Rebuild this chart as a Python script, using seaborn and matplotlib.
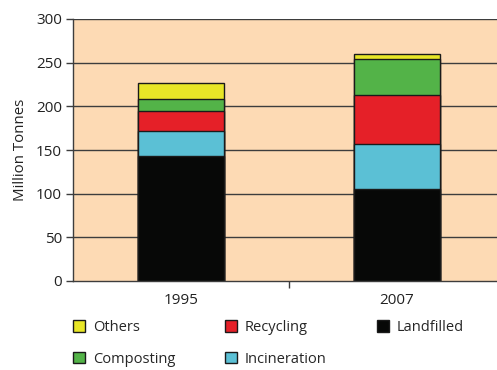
import matplotlib
matplotlib.use("Agg")
import matplotlib.pyplot as plt
from matplotlib.patches import Patch
import seaborn as sns
import pandas as pd
import numpy as np

years = ["1995", "2007"]
series = ["Landfilled", "Incineration", "Recycling", "Composting", "Others"]
landfilled = [143, 105]
incineration = [29, 52]
recycling = [23, 56]
composting = [13, 41]
others = [19, 6]
colors = {"Landfilled": "#070807", "Incineration": "#5BC0D5", "Recycling": "#E52028",
          "Composting": "#53B348", "Others": "#E8E627"}
yticks = [0, 50, 100, 150, 200, 250, 300]

sns.set_theme(style="white")
plt.rcParams['font.family'] = ['Open Sans', 'DejaVu Sans']

vals = [landfilled, incineration, recycling, composting, others]
cum = np.cumsum(np.array(vals), axis=0)

fig = plt.figure(figsize=(4.97, 3.70), dpi=100)
ax = fig.add_axes([73/497, 1 - 281/370, 432/497, 262/370])
ax.set_facecolor("#FDDAB4")

for y in yticks[1:]:
    ax.axhline(y, color="#3d3d3d", lw=1.0, zorder=0.5)

for i in range(len(series) - 1, -1, -1):
    df = pd.DataFrame({"year": years, "value": cum[i]})
    sns.barplot(data=df, x="year", y="value", color=colors[series[i]], width=0.395,
                edgecolor="#1a1a1a", linewidth=1.0, saturation=1, ax=ax, zorder=2)

ax.set_xlim(-0.5, 1.5)
ax.set_ylim(0, 300)
ax.set_yticks(yticks)
ax.set_yticklabels([str(t) for t in yticks], fontsize=11, color="#222222")
ax.set_xticks([0, 1])
ax.set_xticklabels(years, fontsize=11, color="#222222")
ax.tick_params(axis="x", length=0, pad=9)
ax.tick_params(axis="y", length=5, width=1, color="#3d3d3d", left=True, pad=3)
ax.set_xticks([0.5], minor=True)
ax.tick_params(axis="x", which="minor", length=5, width=1, color="#3d3d3d", bottom=True)
ax.set_xlabel("")
ax.set_ylabel("Million Tonnes", fontsize=10.8, color="#222222", labelpad=6)

for s in ["top", "right"]:
    ax.spines[s].set_visible(False)
for s in ["left", "bottom"]:
    ax.spines[s].set_color("#3d3d3d")
    ax.spines[s].set_linewidth(1.0)

order = ["Others", "Composting", "Recycling", "Incineration", "Landfilled"]
handles = [Patch(facecolor=colors[n], edgecolor="#1a1a1a", linewidth=1.0, label=n) for n in order]
fig.legend(handles=handles, loc="upper left", bbox_to_anchor=(73/497, 1 - 320/370), ncol=3,
           frameon=False, fontsize=10.5, handlelength=0.8, handleheight=0.8, handletextpad=0.55,
           columnspacing=3.45, labelspacing=1.16, borderaxespad=0, borderpad=0)

fig.savefig("out.png", dpi=100)
